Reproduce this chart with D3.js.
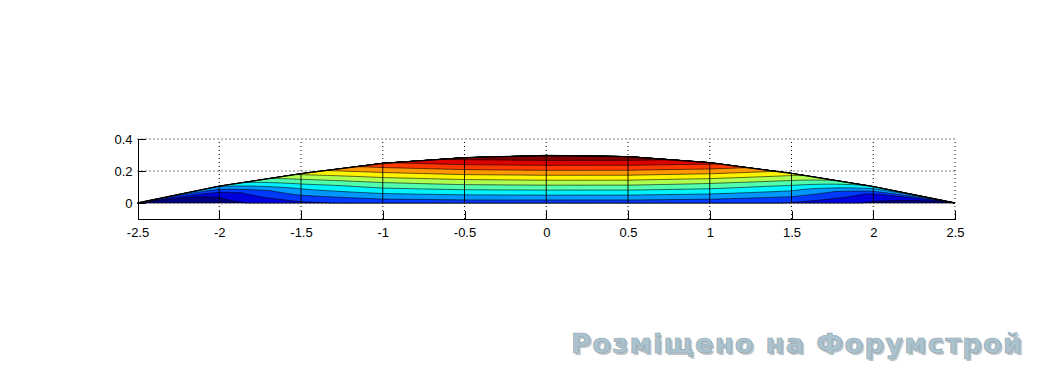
<!DOCTYPE html>
<html>
<head>
<meta charset="utf-8">
<script src="https://cdn.jsdelivr.net/npm/d3@7"></script>
<style>
  body { margin: 0; background: #fff; }
  .axis text { font-family: "Liberation Sans", Arial, sans-serif; font-size: 13px; fill: #000; }
</style>
</head>
<body>
<svg id="chart" width="1054" height="371"></svg>
<script>
// mesh columns of the section
const xNodes = [-2.5, -2, -1.5, -1, -0.5, 0, 0.5, 1, 1.5, 2, 2.5];
const topEdge = [0, 0.105, 0.183, 0.248, 0.283, 0.297, 0.29, 0.252, 0.185, 0.103, 0];
// field value at bottom / half height / top node of each column (0..1)
const bottomVal = [0, 0.05, 0.15, 0.19, 0.2, 0.2, 0.2, 0.19, 0.16, 0.07, 0.02];
const midVal = [0.04, 0.1, 0.34, 0.49, 0.57, 0.6, 0.59, 0.51, 0.37, 0.14, 0.08];
const topVal = [0.24, 0.34, 0.6, 0.82, 0.95, 1.0, 0.98, 0.86, 0.62, 0.4, 0.34];
const levels = [0, 1, 2, 3, 4, 5, 6, 7, 8, 9, 10, 11].map((k) => k / 12);

const xTicks = [-2.5, -2, -1.5, -1, -0.5, 0, 0.5, 1, 1.5, 2, 2.5];
const xLabels = ['-2.5', '-2', '-1.5', '-1', '-0.5', '0', '0.5', '1', '1.5', '2', '2.5'];
const yTicks = [0, 0.2, 0.4];
const yLabels = ['0', '0.2', '0.4'];
const watermark = 'Розміщено на Форумстрой';

const svg = d3.select('#chart');
const x = d3.scaleLinear().domain([-2.5, 2.5]).range([137.5, 955]);
const y = d3.scaleLinear().domain([-0.1, 0.4]).range([219, 139]);

// matlab jet
function jet(t) {
  const c = (v) => Math.max(0, Math.min(1, v));
  const r = c(1.5 - Math.abs(4 * t - 3));
  const g = c(1.5 - Math.abs(4 * t - 2));
  const b = c(1.5 - Math.abs(4 * t - 1));
  return d3.rgb(r * 255, g * 255, b * 255).toString();
}

// grid lines (dotted)
const grid = svg.append('g');
grid.selectAll('line.gx')
  .data(xTicks.slice(1))
  .enter()
  .append('line')
  .attr('x1', (d) => x(d)).attr('x2', (d) => x(d))
  .attr('y1', y(-0.1)).attr('y2', y(0.4));
grid.selectAll('line.gy')
  .data(yTicks)
  .enter()
  .append('line')
  .attr('x1', x(-2.5)).attr('x2', x(2.5))
  .attr('y1', (d) => y(d)).attr('y2', (d) => y(d));
grid.selectAll('line')
  .attr('stroke', '#000')
  .attr('stroke-width', 1)
  .attr('stroke-dasharray', '1,3');

// sample the field in (column, height fraction) space
const nSub = 40;
const nx = (xNodes.length - 1) * nSub + 1;
const ny = 61;
const lerp = (a, b, t) => a + (b - a) * t;
function colAt(u) {
  const f = u / nSub;
  const i = Math.min(Math.floor(f), xNodes.length - 2);
  const t = f - i;
  return {
    x: lerp(xNodes[i], xNodes[i + 1], t),
    top: lerp(topEdge[i], topEdge[i + 1], t),
    b: lerp(bottomVal[i], bottomVal[i + 1], t),
    m: lerp(midVal[i], midVal[i + 1], t),
    tv: lerp(topVal[i], topVal[i + 1], t),
  };
}
const values = new Float64Array(nx * ny);
for (let i = 0; i < nx; i++) {
  const c = colAt(i);
  for (let j = 0; j < ny; j++) {
    const s = j / (ny - 1);
    values[j * nx + i] = s < 0.5 ? lerp(c.b, c.m, 2 * s) : lerp(c.m, c.tv, 2 * s - 1);
  }
}
const bands = d3.contours().size([nx, ny]).thresholds(levels)(values);

const proj = d3.geoTransform({
  point(px, py) {
    const u = Math.max(0, Math.min(nx - 1, px - 0.5));
    const v = Math.max(0, Math.min(ny - 1, py - 0.5));
    const c = colAt(u);
    this.stream.point(x(c.x), y((v / (ny - 1)) * c.top));
  },
});
const path = d3.geoPath(proj);

svg.append('g')
  .selectAll('path')
  .data(bands)
  .enter()
  .append('path')
  .attr('d', path)
  .attr('fill', (d, i) => jet(i / (levels.length - 1)))
  .attr('fill-rule', 'evenodd')
  .attr('stroke', '#000')
  .attr('stroke-width', 0.6)
  .attr('stroke-linejoin', 'round');

// mesh column lines
svg.append('g')
  .selectAll('line')
  .data(xNodes.slice(1, -1))
  .enter()
  .append('line')
  .attr('x1', (d) => x(d)).attr('x2', (d) => x(d))
  .attr('y1', y(0))
  .attr('y2', (d, i) => y(topEdge[i + 1]))
  .attr('stroke', '#000')
  .attr('stroke-width', 0.9);

// outer top edge
svg.append('path')
  .datum(xNodes.map((d, i) => [d, topEdge[i]]))
  .attr('d', d3.line().x((d) => x(d[0])).y((d) => y(d[1])))
  .attr('fill', 'none')
  .attr('stroke', '#000')
  .attr('stroke-width', 1.3);

// axes, ticks inside
svg.append('g')
  .attr('class', 'axis')
  .attr('transform', `translate(0,${y(-0.1)})`)
  .call(d3.axisBottom(x)
    .tickValues(xTicks)
    .tickFormat((d, i) => xLabels[i])
    .tickSizeInner(-8)
    .tickSizeOuter(0)
    .tickPadding(9));
svg.append('g')
  .attr('class', 'axis')
  .attr('transform', `translate(${x(-2.5)},0)`)
  .call(d3.axisLeft(y)
    .tickValues(yTicks)
    .tickFormat((d, i) => yLabels[i])
    .tickSizeInner(-8)
    .tickSizeOuter(0)
    .tickPadding(5));
svg.selectAll('.axis path, .axis line')
  .attr('stroke', '#000')
  .attr('stroke-width', 1)
  .attr('shape-rendering', 'crispEdges');

// watermark
const wm = svg.append('g')
  .style('font-family', '"DejaVu Sans", Verdana, sans-serif')
  .style('font-weight', 'bold')
  .style('font-size', '27px');
wm.append('text')
  .attr('x', 573).attr('y', 355)
  .attr('textLength', 451)
  .attr('fill', '#bcc4c8')
  .text(watermark);
wm.append('text')
  .attr('x', 571).attr('y', 353)
  .attr('textLength', 451)
  .attr('fill', '#aac3cf')
  .attr('stroke', '#95a9b3')
  .attr('stroke-width', 0.7)
  .text(watermark);
</script>
</body>
</html>
